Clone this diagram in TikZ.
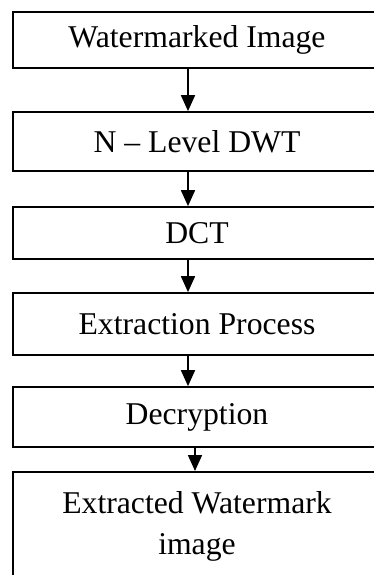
\documentclass[tikz,border=0pt]{standalone}
\usepackage{fontspec}
\setmainfont{Liberation Serif}
\usetikzlibrary{positioning,arrows.meta}

\tikzset{
    stage/.style={draw, line width=1.7pt, minimum width=368pt, inner sep=0pt,
        font=\fontsize{31.7}{41}\selectfont, align=center},
    flow/.style={-{Triangle[length=16pt,width=14pt]}, line width=1.7pt}
}

\begin{document}
\begin{tikzpicture}
    \useasboundingbox (0,0) rectangle (374pt,-575pt);

    % stages of the extraction
    \node[stage, minimum height=56pt] (wimg) at (197pt,-40pt) {Watermarked Image};
    \node[stage, minimum height=59pt] (dwt) at (197pt,-141.5pt) {N -- Level DWT};
    \node[stage, minimum height=52pt] (dct) at (197pt,-233pt) {DCT};
    \node[stage, minimum height=62pt] (extr) at (197pt,-324pt) {Extraction Process};
    \node[stage, minimum height=60pt] (decr) at (197pt,-417pt) {Decryption};
    \node[stage, minimum height=110pt, anchor=north] (wmark) at (197pt,-471pt)
        {Extracted Watermark\\image};

    % arrows between stages
    \draw[flow] ([xshift=-9pt]wimg.south) -- ([xshift=-9pt]dwt.north);
    \draw[flow] ([xshift=-9pt]dwt.south) -- ([xshift=-9pt]dct.north);
    \draw[flow] ([xshift=-9pt]dct.south) -- ([xshift=-9pt]extr.north);
    \draw[flow] ([xshift=-9pt]extr.south) -- ([xshift=-9pt]decr.north);
    \draw[flow] ([xshift=-2pt]decr.south) -- ([xshift=-2pt]wmark.north);
\end{tikzpicture}
\end{document}
